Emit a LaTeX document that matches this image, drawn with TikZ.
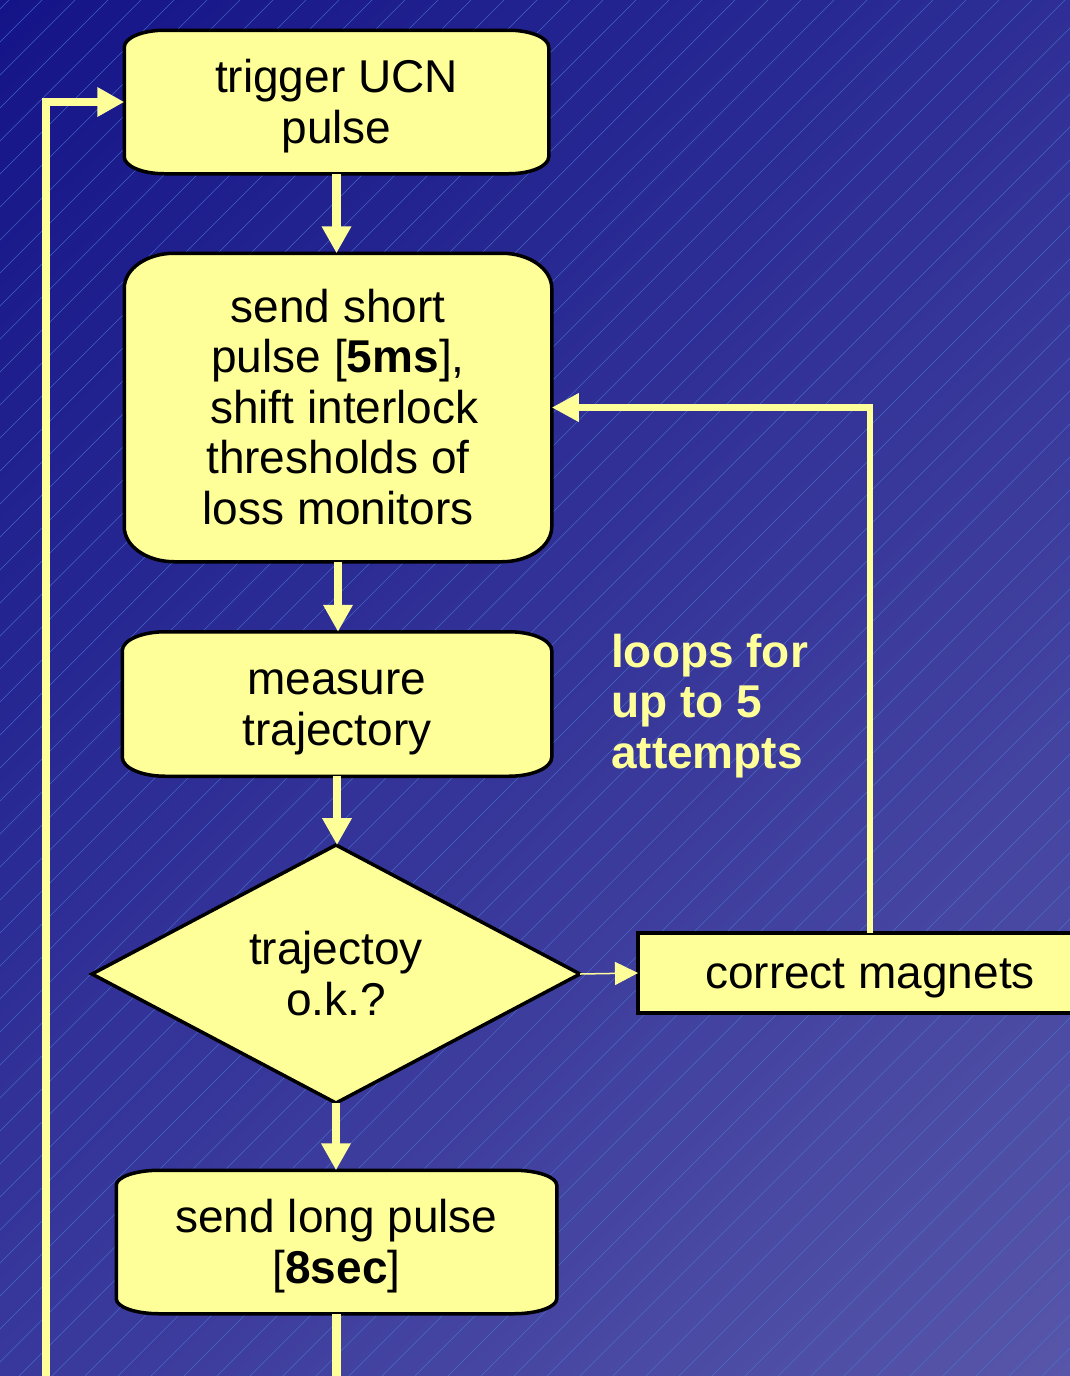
\documentclass[tikz,border=0pt]{standalone}
\usepackage{fontspec}
\setmainfont{Liberation Sans}
\usetikzlibrary{arrows.meta,calc,shapes.geometric,shadings}
\pgfdeclarelayer{bg}
\pgfdeclarelayer{shapes}
\pgfsetlayers{bg,shapes,main}
\definecolor{bgUL}{HTML}{141488}
\definecolor{bgUR}{HTML}{2E2E96}
\definecolor{bgLL}{HTML}{38389C}
\definecolor{bgLR}{HTML}{5756A9}
\definecolor{pale}{HTML}{FFFF99}
\definecolor{hatchc}{HTML}{4A78D0}
\newcommand\topst{\rule{0pt}{41.6pt}}
\newcommand\botst{\rule[-9.75pt]{0pt}{0pt}}
\tikzset{
  txt/.style={inner sep=0pt, outer sep=1.75pt, align=center, font=\fontsize{46}{50.5}\selectfont, text=black},
  flow/.style={draw=pale, line width=8.5pt, -{Triangle[length=27pt,width=28pt]}},
  plainflow/.style={draw=pale, line width=8.5pt},
  loopline/.style={draw=pale, line width=6.5pt, -{Triangle[length=27pt,width=27pt]}},
  thinarrow/.style={draw=pale, line width=1.5pt, -{Triangle[length=23pt,width=23pt]}},
  outline/.style={draw=black, fill=pale, line width=3.5pt},
  hatch/.style={draw=hatchc, line width=0.55pt, draw opacity=0.75},
}
\newcommand\ovalbox[3]{%
  \draw[outline] ($(#1.north west)+(0pt,-#3)$)
    arc[start angle=180,end angle=90,x radius=#2,y radius=#3]
    -- ($(#1.north east)+(-#2,0pt)$)
    arc[start angle=90,end angle=0,x radius=#2,y radius=#3]
    -- ($(#1.south east)+(0pt,#3)$)
    arc[start angle=0,end angle=-90,x radius=#2,y radius=#3]
    -- ($(#1.south west)+(#2,0pt)$)
    arc[start angle=270,end angle=180,x radius=#2,y radius=#3]
    -- cycle;}
\begin{document}
\begin{tikzpicture}[x=1pt,y=-1pt]
\useasboundingbox (0,0) rectangle (1070,1376);
\begin{pgfonlayer}{bg}
  \shade[upper left=bgUL, upper right=bgUR, lower left=bgLL, lower right=bgLR] (0,0) rectangle (1070,1376);
  \begin{scope}
    \clip (0,0) rectangle (1070,1376);
    \foreach \i in {-1400,-1367,...,1080} \draw[hatch] (\i,1376) -- ++(1376,-1376);
  \end{scope}
\end{pgfonlayer}

\node[txt, minimum width=421pt, minimum height=140pt] (b1) at (336.5,102) {\topst trigger UCN\\pulse\botst};
\node[txt, minimum width=424pt, minimum height=305pt] (b2) at (338,407.5) {\topst send short\\pulse [\textbf{5ms}],\\\ shift interlock\\thresholds of\\loss monitors\botst};
\node[txt, minimum width=426pt, minimum height=141pt] (b3) at (337,704) {\topst measure\\trajectory\botst};
\node[txt, outline, shape=diamond, shape aspect=2, outer sep=0pt, minimum width=488pt, minimum height=258pt] (dia) at (336,974) {\topst trajectoy\\o.k.?\botst};
\node[txt, outline, rectangle, outer sep=0pt, minimum width=464pt, minimum height=80pt] (cm) at (870,973) {\topst\botst correct magnets};
\node[txt, minimum width=437pt, minimum height=140pt] (b6) at (336.5,1242) {\topst send long pulse\\{[}\textbf{8sec}{]}\botst};
\node[inner sep=0pt, anchor=west, align=left, text=pale, font=\fontsize{46}{50.5}\selectfont\bfseries] (lbl) at (611,702) {\topst loops for\\up to 5\\attempts\botst};

\begin{pgfonlayer}{shapes}
  \ovalbox{b1}{40pt}{17pt}
  \ovalbox{b2}{50pt}{35pt}
  \ovalbox{b3}{43pt}{19pt}
  \ovalbox{b6}{43pt}{15pt}
\end{pgfonlayer}

\coordinate (bot) at (337,1376);
\coordinate (lb) at (46,1376);
\draw[flow] (b1.south) -- (b1.south |- b2.north);
\draw[flow] (b2.south) -- (b2.south |- b3.north);
\draw[flow] (b3.south) -- (b3.south |- dia.north);
\draw[flow] (dia.south) -- (dia.south |- b6.north);
\draw[plainflow] (b6.south) -- (b6.south |- bot);
\draw[flow] (lb) |- (b1.west);
\draw[thinarrow] (dia.east) -- (cm.west);
\draw[loopline] (cm.north) |- (b2.east);
\end{tikzpicture}
\end{document}
